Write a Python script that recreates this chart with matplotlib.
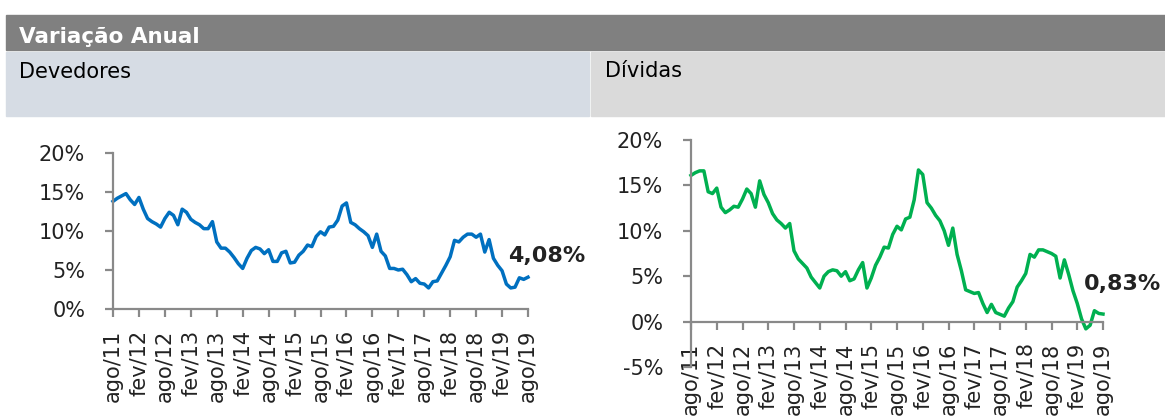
import numpy as np
import matplotlib
matplotlib.use("Agg")
import matplotlib.pyplot as plt
from matplotlib.patches import Rectangle

# monthly annual variation (%), ago/11 .. ago/19
devedores = [13.8, 14.2, 14.5, 14.8, 14.0, 13.4, 14.3, 12.8, 11.6, 11.2,
             10.9, 10.5, 11.6, 12.4, 12.0, 10.8, 12.8, 12.4, 11.5, 11.1,
             10.8, 10.3, 10.3, 11.2, 8.6, 7.8, 7.8, 7.3, 6.6, 5.8,
             5.2, 6.5, 7.5, 7.9, 7.7, 7.1, 7.6, 6.1, 6.1, 7.2,
             7.4, 5.9, 6.0, 6.9, 7.4, 8.2, 8.0, 9.3, 9.9, 9.5,
             10.5, 10.6, 11.4, 13.2, 13.6, 11.1, 10.8, 10.3, 9.9, 9.4,
             7.9, 9.6, 7.4, 6.8, 5.2, 5.2, 5.0, 5.1, 4.4, 3.5,
             3.9, 3.3, 3.2, 2.7, 3.5, 3.6, 4.6, 5.6, 6.7, 8.8,
             8.6, 9.2, 9.6, 9.6, 9.2, 9.6, 7.3, 8.9, 6.5, 5.6,
             4.9, 3.2, 2.7, 2.8, 4.0, 3.8, 4.08]

dividas = [16.1, 16.4, 16.6, 16.6, 14.3, 14.1, 14.7, 12.6, 12.0, 12.3,
           12.7, 12.6, 13.5, 14.6, 14.1, 12.6, 15.5, 14.0, 13.1, 11.9,
           11.2, 10.8, 10.3, 10.8, 7.8, 6.9, 6.4, 5.9, 4.9, 4.3,
           3.7, 5.0, 5.5, 5.7, 5.6, 5.0, 5.5, 4.5, 4.7, 5.7,
           6.5, 3.7, 4.8, 6.2, 7.1, 8.2, 8.1, 9.6, 10.5, 10.1,
           11.3, 11.5, 13.4, 16.7, 16.2, 13.1, 12.5, 11.7, 11.1, 10.0,
           8.4, 10.3, 7.4, 5.6, 3.5, 3.3, 3.1, 3.2, 2.0, 1.0,
           1.9, 1.0, 0.8, 0.6, 1.5, 2.2, 3.8, 4.5, 5.3, 7.4,
           7.1, 7.9, 7.9, 7.7, 7.5, 7.2, 4.8, 6.8, 5.2, 3.4,
           2.0, 0.3, -0.8, -0.4, 1.2, 0.9, 0.83]

tick_labels = ["ago/11", "fev/12", "ago/12", "fev/13", "ago/13", "fev/14",
               "ago/14", "fev/15", "ago/15", "fev/16", "ago/16", "fev/17",
               "ago/17", "fev/18", "ago/18", "fev/19", "ago/19"]

W, H = 1165, 417
fig = plt.figure(figsize=(W / 100, H / 100), dpi=100)
plt.rcParams['font.family'] = ['DejaVu Sans']


def box(x0, y0, x1, y1):
    return [x0 / W, 1 - y1 / H, (x1 - x0) / W, (y1 - y0) / H]


def rect(x0, y0, x1, y1, color):
    fig.patches.append(Rectangle((x0 / W, 1 - y1 / H), (x1 - x0) / W, (y1 - y0) / H,
                                 transform=fig.transFigure, color=color, zorder=0))


rect(6, 15, W, 50, "#808080")
rect(6, 52, 589, 116, "#D6DCE4")
rect(591, 52, W, 116, "#DADADA")
fig.text(19 / W, 1 - 43 / H, "Variação Anual", color="white", fontsize=15.5,
         fontweight="bold", va="baseline")
fig.text(19 / W, 1 - 78 / H, "Devedores", color="black", fontsize=15, va="baseline")
fig.text(605 / W, 1 - 77 / H, "Dívidas", color="black", fontsize=15, va="baseline")

x = np.arange(len(devedores))
ticks = np.arange(0, len(devedores), 6)
gray = "#898989"
txt = "#222222"


def style(ax, yticks):
    for s in ["top", "right"]:
        ax.spines[s].set_visible(False)
    for s in ["left", "bottom"]:
        ax.spines[s].set_color(gray)
        ax.spines[s].set_linewidth(1.6)
    ax.set_xlim(0, 96)
    ax.set_xticks(ticks)
    ax.set_xticklabels(tick_labels, rotation=90, ha="center", va="top")
    ax.set_yticks(yticks)
    ax.set_yticklabels([f"{v}%" for v in yticks])
    ax.tick_params(axis="x", length=6, width=1.6, color=gray, pad=9,
                   labelsize=15, labelcolor=txt)
    ax.tick_params(axis="y", length=6, width=1.6, color=gray, pad=14,
                   labelsize=15, labelcolor=txt)
    ax.patch.set_alpha(0)


ax1 = fig.add_axes(box(113, 153, 528, 309))
ax1.plot(x, devedores, color="#0070C0", lw=2.5, clip_on=False)
ax1.set_ylim(0, 20)
style(ax1, [0, 5, 10, 15, 20])
ax1.text(91.4, 6.0, "4,08%", fontsize=16, fontweight="bold", color=txt, va="baseline")

ax2 = fig.add_axes(box(691, 140, 1103, 367))
ax2.spines["bottom"].set_position(("data", 0))
ax2.plot(x, dividas, color="#00B050", lw=2.5, clip_on=False)
ax2.set_ylim(-5, 20)
style(ax2, [-5, 0, 5, 10, 15, 20])
ax2.text(91.6, 3.5, "0,83%", fontsize=16, fontweight="bold", color=txt, va="baseline")

fig.savefig("out.png", dpi=100)
